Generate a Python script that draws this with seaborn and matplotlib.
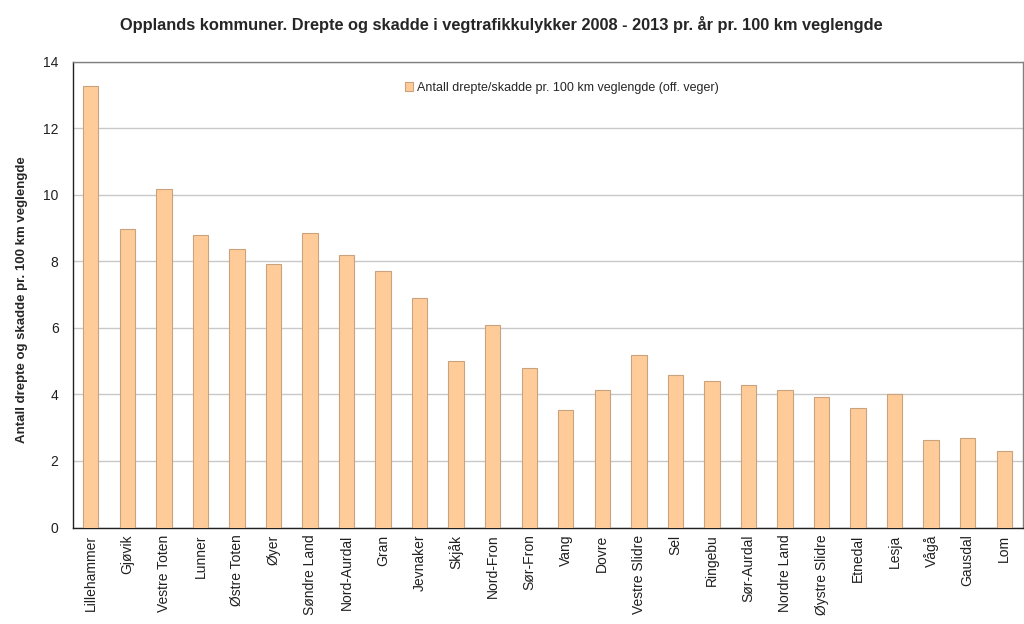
import matplotlib
matplotlib.use("Agg")
import matplotlib.pyplot as plt
import numpy as np
import pandas as pd
import seaborn as sns

kommuner = ["Lillehammer", "Gjøvik", "Vestre Toten", "Lunner", "Østre Toten", "Øyer",
            "Søndre Land", "Nord-Aurdal", "Gran", "Jevnaker", "Skjåk", "Nord-Fron",
            "Sør-Fron", "Vang", "Dovre", "Vestre Slidre", "Sel", "Ringebu", "Sør-Aurdal",
            "Nordre Land", "Øystre Slidre", "Etnedal", "Lesja", "Vågå", "Gausdal", "Lom"]
verdier = [13.27, 8.97, 10.17, 8.79, 8.38, 7.92, 8.86, 8.20, 7.72, 6.88, 4.99, 6.07,
           4.79, 3.53, 4.13, 5.17, 4.57, 4.39, 4.27, 4.14, 3.92, 3.59, 4.01, 2.63, 2.68, 2.30]
y_ticks = [0, 2, 4, 6, 8, 10, 12, 14]
serie = "Antall drepte/skadde pr. 100 km veglengde (off. veger)"

df = pd.DataFrame({"kommune": kommuner, "verdi": verdier, "serie": serie})

sns.set_style("white")
plt.rcParams['font.family'] = ['Liberation Sans', 'DejaVu Sans']

fig = plt.figure(figsize=(10.24, 6.24), dpi=100)
ax = fig.add_axes([72.5 / 1024, 1 - 527.5 / 624, (1022.5 - 72.5) / 1024, (527.5 - 61.5) / 624])

sns.barplot(data=df, x="kommune", y="verdi", hue="serie", ax=ax, width=0.42, saturation=1,
            palette=["#FFCC99"], edgecolor="#C9A27E", linewidth=0.8, zorder=3)

ax.set_ylim(0, 14)
ax.set_yticks(y_ticks)
ax.set_xlim(-0.5, len(kommuner) - 0.5)
ax.yaxis.grid(True, color="#C8C8C8", linewidth=1.0, zorder=0)
ax.set_axisbelow(True)

# skillestreker mellom kategoriene
ax.set_xticks(np.arange(len(kommuner)))
ax.set_xticklabels(kommuner, rotation=90, fontsize=10)
ax.set_xticks(np.arange(len(kommuner) + 1) - 0.5, minor=True)
ax.tick_params(axis="x", which="major", length=0, pad=5, colors="#202020")
ax.tick_params(axis="x", which="minor", length=4, width=0.8, color="#404040", direction="out")
ax.tick_params(axis="y", length=4, width=0.8, color="#404040", labelcolor="#202020",
               direction="out", labelsize=10, pad=6)

for side in ["left", "bottom"]:
    ax.spines[side].set_color("#202020")
    ax.spines[side].set_linewidth(1.0)
for side in ["top", "right"]:
    ax.spines[side].set_visible(True)
    ax.spines[side].set_color("#808080")
    ax.spines[side].set_linewidth(1.0)

ax.set_xlabel("")
ax.set_ylabel("Antall drepte og skadde pr. 100 km veglengde", fontsize=9.5, fontweight="bold")
ax.yaxis.set_label_coords(-0.047, 0.49)

leg = ax.legend(loc="upper center", bbox_to_anchor=(0.515, 0.98), frameon=False, fontsize=9,
                handlelength=0.7, handleheight=0.7, handletextpad=0.3)

fig.suptitle("Opplands kommuner. Drepte og skadde i vegtrafikkulykker 2008 - 2013 pr. år pr. 100 km veglengde",
             x=0.49, y=0.975, fontsize=11.8, fontweight="bold")

fig.savefig("out.png", dpi=100)
